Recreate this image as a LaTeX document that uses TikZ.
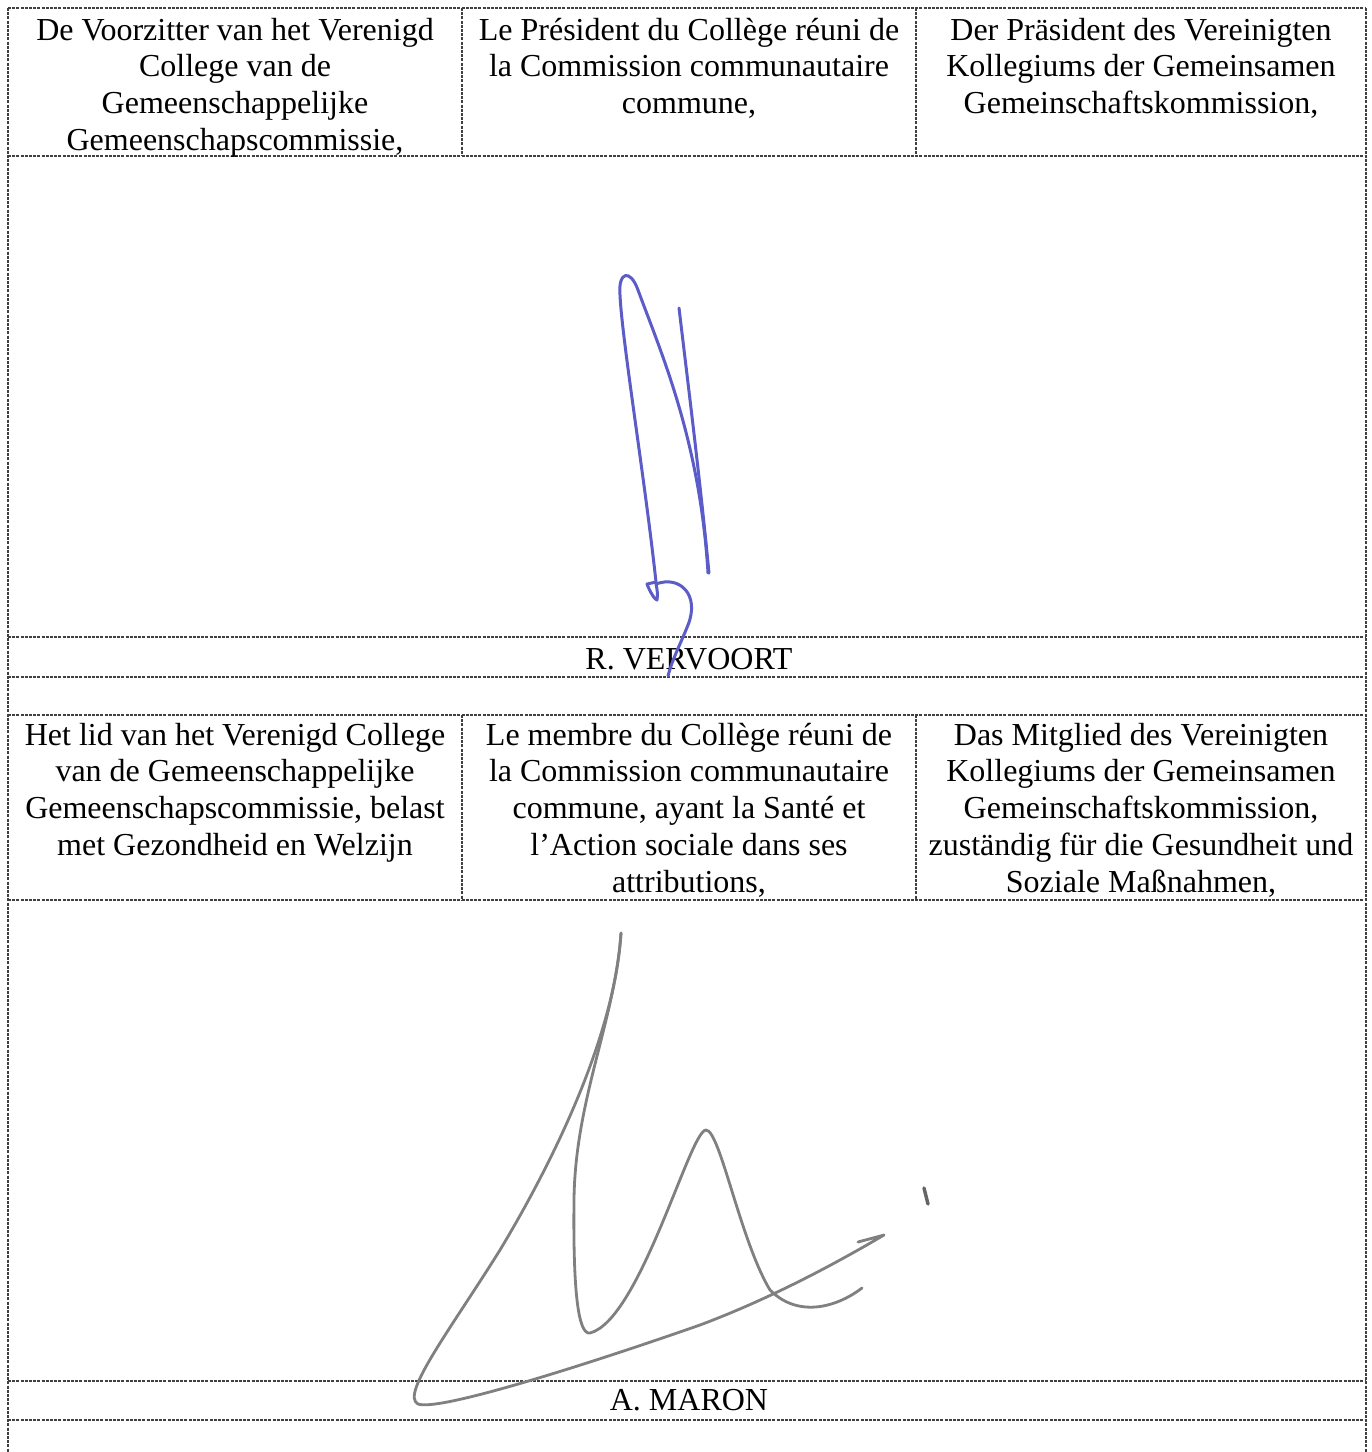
\documentclass[tikz,border=0pt]{standalone}
\usepackage{fontspec}
\setmainfont{Liberation Serif}
\definecolor{inkblue}{RGB}{92,92,200}
\definecolor{inkgray}{RGB}{128,128,128}
\begin{document}
\begin{tikzpicture}[x=1pt,y=-1pt,
  rule/.style={draw=black!75, line width=1.3pt, dash pattern=on 3pt off 1.2pt},
  celltext/.style={anchor=base, align=center, inner sep=0pt, font=\fontsize{32}{36.8}\selectfont},
  sigblue/.style={draw=inkblue, line width=3pt, line cap=round, line join=round},
  siggray/.style={draw=inkgray, line width=2.8pt, line cap=round, line join=round}]
\useasboundingbox[fill=white] (0,0) rectangle (1372,1452);
% outer verticals
\draw[rule] (8,8) -- (8,1452);
\draw[rule] (1366,8) -- (1366,1452);
% horizontals
\foreach \yy in {8,156,637,677,715,900,1381,1420}
  \draw[rule] (8,\yy) -- (1366,\yy);
% column dividers
\draw[rule] (462,8) -- (462,156);
\draw[rule] (916,8) -- (916,156);
\draw[rule] (462,715) -- (462,900);
\draw[rule] (916,715) -- (916,900);
% texts, block 1 (anchor base = baseline of the last line)
\node[celltext] (nl1) at (235,150.4) {De Voorzitter van het Verenigd\\College van de\\Gemeenschappelijke\\Gemeenschapscommissie,};
\node[celltext] (fr1) at (689,113.6) {Le Président du Collège réuni de\\la Commission communautaire\\commune,};
\node[celltext] (de1) at (1141,113.6) {Der Präsident des Vereinigten\\Kollegiums der Gemeinsamen\\Gemeinschaftskommission,};
\node[celltext] (name1) at (689,669) {R. VERVOORT};
% texts, block 2
\node[celltext] (nl2) at (235,855.4) {Het lid van het Verenigd College\\van de Gemeenschappelijke\\Gemeenschapscommissie, belast\\met Gezondheid en Welzijn};
\node[celltext] (fr2) at (689,892.2) {Le membre du Collège réuni de\\la Commission communautaire\\commune, ayant la Santé et\\l’Action sociale dans ses\\attributions,};
\node[celltext] (de2) at (1141,892.2) {Das Mitglied des Vereinigten\\Kollegiums der Gemeinsamen\\Gemeinschaftskommission,\\zuständig für die Gesundheit und\\Soziale Maßnahmen,};
\node[celltext] (name2) at (689,1410) {A. MARON};
% blue signature
\draw[sigblue] (656,582) .. controls (645,480) and (622,340) .. (620,295)
  .. controls (618,272) and (630,268) .. (638,290)
  .. controls (660,350) and (700,440) .. (708,573);
\draw[sigblue] (679,308) .. controls (690,400) and (700,480) .. (709,573);
\draw[sigblue] (656,582) -- (647,584) .. controls (650,592) and (655,600) .. (657,600)
  .. controls (658,595) and (657,588) .. (656,584)
  .. controls (680,575) and (700,595) .. (688,625)
  .. controls (680,645) and (672,660) .. (668,676);
% gray signature
\draw[siggray] (621,933) .. controls (615,1030) and (560,1150) .. (500,1250)
  .. controls (450,1330) and (400,1395) .. (418,1404)
  .. controls (440,1412) and (600,1360) .. (700,1325)
  .. controls (780,1295) and (850,1255) .. (884,1235) -- (858,1242);
\draw[siggray] (621,933) .. controls (615,1020) and (575,1100) .. (574,1200)
  .. controls (573,1290) and (578,1335) .. (590,1333)
  .. controls (640,1320) and (690,1130) .. (706,1130)
  .. controls (720,1130) and (740,1240) .. (770,1290)
  .. controls (800,1320) and (840,1305) .. (862,1288);
\draw[siggray, draw=black!60, line width=3.5pt] (924,1188) -- (928,1204);
\end{tikzpicture}
\end{document}
